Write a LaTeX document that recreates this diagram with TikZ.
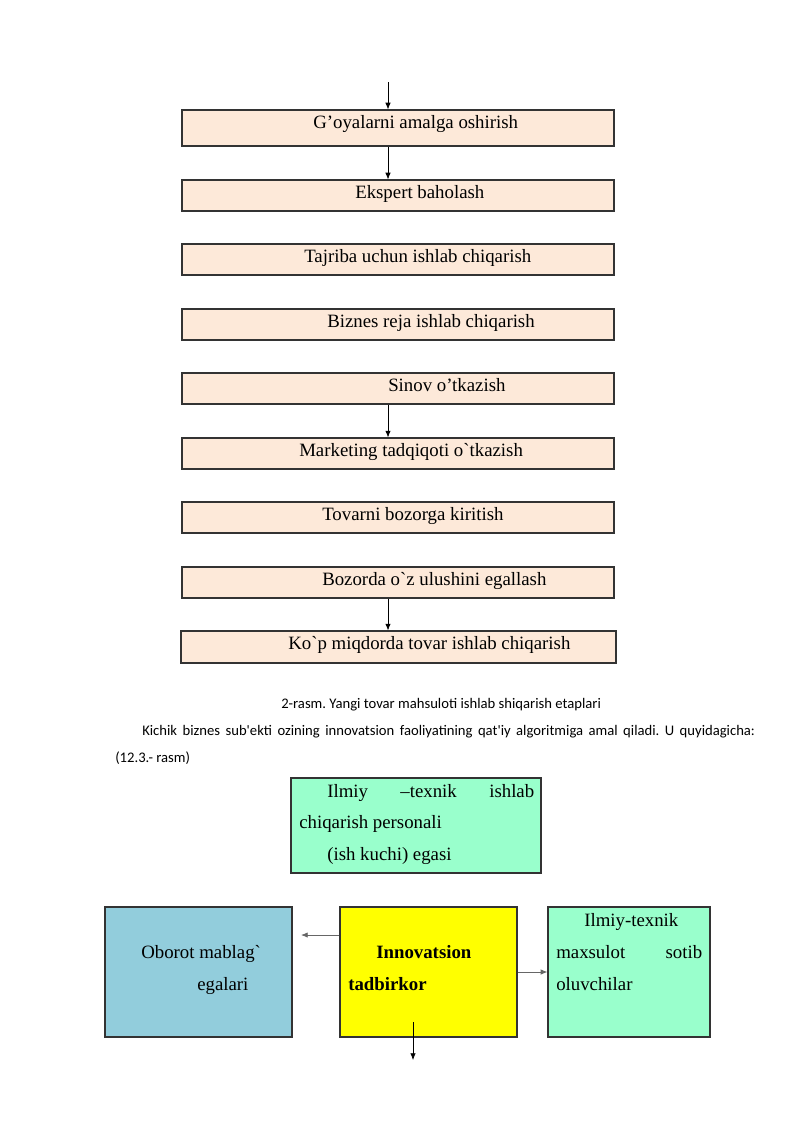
\documentclass[tikz,border=0pt]{standalone}
\usepackage{fontspec}
\setmainfont{Liberation Serif}[Ligatures=TeXOff]
\newfontfamily\capfont{Carlito}[Ligatures=TeXOff]
\usetikzlibrary{arrows.meta,fit}
\definecolor{peach}{RGB}{253,233,217}
\definecolor{mint}{RGB}{153,255,204}
\definecolor{skyb}{RGB}{146,205,220}
\definecolor{yell}{RGB}{255,255,0}
\frenchspacing
\tikzset{
  stepbox/.style={draw=black!80,line width=0.8pt,fill=peach,inner sep=0pt},
  cbox/.style={draw=black!80,line width=0.8pt,inner sep=0pt},
  ftxt/.style={anchor=base west,inner sep=0pt,font=\fontsize{14}{16}\selectfont},
  ctxt/.style={anchor=base west,inner sep=0pt,font=\capfont\fontsize{10.9}{12}\selectfont},
  arr/.style={-{Latex[length=5pt,width=4pt]},line width=0.5pt,black},
  garr/.style={-{Latex[length=5pt,width=4pt]},line width=0.6pt,black!60}
}
\begin{document}
\begin{tikzpicture}[x=0.7441pt,y=-0.7441pt]
\useasboundingbox (0,0) rectangle (800,1131);
\fill[white] (0,0) rectangle (800,1131);
% flowchart boxes
\node[stepbox,fit={(182,110)(614,146)}] (b1) {};
\node[stepbox,fit={(182,180)(614,211)}] (b2) {};
\node[stepbox,fit={(182,244)(614,275)}] (b3) {};
\node[stepbox,fit={(182,309)(614,340)}] (b4) {};
\node[stepbox,fit={(182,373)(614,404)}] (b5) {};
\node[stepbox,fit={(182,438)(614,469)}] (b6) {};
\node[stepbox,fit={(182,502)(614,533)}] (b7) {};
\node[stepbox,fit={(182,567)(614,598)}] (b8) {};
\node[stepbox,fit={(181,631)(616,663)}] (b9) {};
\node[ftxt] (t1) at (313,128) {G’oyalarni amalga oshirish};
\node[ftxt] (t2) at (355,198) {Ekspert baholash};
\node[ftxt] (t3) at (304,262) {Tajriba uchun ishlab chiqarish};
\node[ftxt] (t4) at (327,327) {Biznes reja ishlab chiqarish};
\node[ftxt] (t5) at (388,391) {Sinov o’tkazish};
\node[ftxt] (t6) at (299,456) {Marketing tadqiqoti o`tkazish};
\node[ftxt] (t7) at (322,520) {Tovarni bozorga kiritish};
\node[ftxt] (t8) at (322,585) {Bozorda o`z ulushini egallash};
\node[ftxt] (t9) at (288,649) {Ko`p miqdorda tovar ishlab chiqarish};
\coordinate (ax) at (388,0);
\coordinate (top) at (388,82);
\draw[arr] (top) -- (b1.north -| ax);
\draw[arr] (b1.south -| ax) -- (b2.north -| ax);
\draw[arr] (b5.south -| ax) -- (b6.north -| ax);
\draw[arr] (b8.south -| ax) -- (b9.north -| ax);
% caption and paragraph
\node[ctxt] (cap) at (281,708) {2-rasm. Yangi tovar mahsuloti ishlab shiqarish etaplari};
\node[ctxt] (par) at (142,735) {\hbox to 456pt{Kichik biznes sub'ekti ozining innovatsion faoliyatining qat'iy algoritmiga amal qiladi. U quyidagicha:}};
\node[ctxt] (par2) at (115,762) {(12.3.- rasm)};
% second diagram
\node[cbox,fill=mint,fit={(291,778)(541,873)}] (g1) {};
\node[ftxt] (g1a) at (327,797) {\hbox to 154pt{Ilmiy \hfill –texnik \hfill ishlab}};
\node[ftxt] (g1d) at (299,828) {chiqarish personali};
\node[ftxt] (g1e) at (327,860) {(ish kuchi) egasi};
\node[cbox,fill=skyb,fit={(105,907)(292,1037)}] (bl) {};
\node[ftxt] (bla) at (141,958) {Oborot mablag`};
\node[ftxt] (blb) at (197,990) {egalari};
\node[cbox,fill=yell,fit={(340,907)(517,1037)}] (ye) {};
\node[ftxt,font=\fontsize{14}{16}\selectfont\bfseries] (yea) at (376,958) {Innovatsion};
\node[ftxt,font=\fontsize{14}{16}\selectfont\bfseries] (yeb) at (348,990) {tadbirkor};
\node[cbox,fill=mint,fit={(548,907)(710,1037)}] (rg) {};
\node[ftxt] (rga) at (584,926) {Ilmiy-texnik};
\node[ftxt] (rgb) at (556,958) {\hbox to 108.6pt{maxsulot\hfill sotib}};
\node[ftxt] (rgd) at (556,990) {oluvchilar};
\coordinate (lend) at (301,935);
\coordinate (rl) at (0,972);
\coordinate (dstart) at (413,1022);
\coordinate (dend) at (413,1060);
\draw[garr] (ye.west |- lend) -- (lend);
\draw[garr] (ye.east |- rl) -- (rg.west |- rl);
\draw[arr] (dstart) -- (dend);
\end{tikzpicture}
\end{document}
